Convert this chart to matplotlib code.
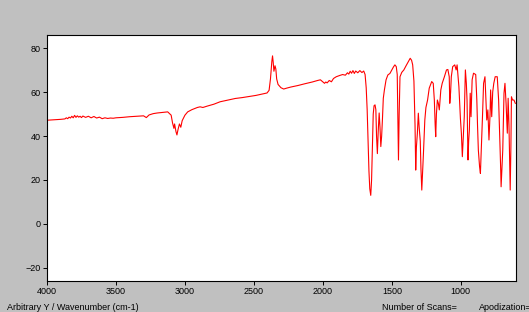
import matplotlib
matplotlib.use("Agg")
import matplotlib.pyplot as plt

plt.rcParams['font.family'] = ['Liberation Sans', 'DejaVu Sans']

# wavenumber (cm-1) and arbitrary Y
wavenumber = [
    4000, 3950, 3900, 3870, 3860, 3850, 3840, 3830, 3820, 3810, 3800, 3790,
    3780, 3770, 3760, 3750, 3740, 3720, 3700, 3680, 3660, 3640, 3620, 3600,
    3580, 3560, 3540, 3520, 3500, 3450, 3400, 3350, 3300, 3280, 3260, 3230,
    3200, 3150, 3125, 3100, 3090, 3080, 3075, 3065, 3058, 3050, 3040, 3030,
    3020, 3000, 2980, 2950, 2910, 2890, 2870, 2840, 2790, 2745, 2685, 2635,
    2585, 2535, 2485, 2435, 2405, 2390, 2380, 2370, 2365, 2360, 2355, 2347,
    2341, 2335, 2325, 2304, 2284, 2263, 2233, 2181, 2131, 2077, 2038, 2018,
    2003, 1988, 1979, 1969, 1954, 1938, 1923, 1903, 1877, 1857, 1837, 1822,
    1812, 1802, 1792, 1782, 1772, 1762, 1747, 1732, 1717, 1704, 1694, 1686,
    1679, 1672, 1666, 1660, 1653, 1647, 1641, 1635, 1629, 1622, 1616, 1611,
    1605, 1599, 1592, 1586, 1580, 1574, 1568, 1562, 1554, 1542, 1529, 1514,
    1500, 1488, 1478, 1468, 1461, 1455, 1452, 1447, 1441, 1428, 1413, 1397,
    1380, 1367, 1357, 1349, 1340, 1332, 1327, 1322, 1315, 1308, 1302, 1294,
    1289, 1283, 1276, 1271, 1261, 1253, 1241, 1229, 1211, 1200, 1192, 1186,
    1182, 1177, 1170, 1163, 1156, 1151, 1145, 1135, 1119, 1104, 1094, 1084,
    1080, 1074, 1069, 1059, 1044, 1034, 1027, 1021, 1014, 1003, 996, 989,
    982, 975, 967, 960, 955, 948, 943, 938, 932, 926, 918, 908,
    892, 884, 879, 873, 864, 858, 851, 843, 835, 825, 817, 812,
    804, 796, 788, 784, 776, 769, 761, 751, 736, 726, 715, 711,
    708, 702, 696, 687, 680, 672, 663, 657, 651, 645, 642, 637,
    633, 625, 615, 605,
]
absorb = [
    47.2, 47.4, 47.6, 47.8, 48.3, 47.9, 48.6, 48.2, 49.0, 48.3, 49.4, 48.5,
    49.2, 48.6, 49.0, 48.4, 49.1, 48.5, 49.0, 48.3, 48.9, 48.2, 48.6, 47.9,
    48.3, 48.0, 48.2, 48.1, 48.3, 48.5, 48.8, 49.0, 49.2, 48.4, 49.6, 50.2,
    50.5, 50.8, 51.0, 49.5, 46.0, 43.5, 45.5, 42.0, 40.5, 43.0, 45.5, 44.0,
    47.0, 49.5, 51.0, 52.0, 53.0, 53.3, 53.0, 53.6, 54.5, 55.6, 56.4, 57.1,
    57.5, 58.0, 58.5, 59.2, 59.6, 60.8, 66.0, 74.0, 76.5, 73.5, 69.5, 72.0,
    70.5, 66.0, 63.5, 62.0, 61.4, 61.8, 62.3, 63.0, 63.8, 64.6, 65.3, 65.6,
    64.8, 64.0, 64.6, 64.2, 65.3, 64.7, 66.2, 67.0, 67.6, 68.0, 67.7, 68.8,
    68.2, 69.5, 68.6, 69.8, 68.5, 69.6, 68.8, 69.8, 68.9, 69.6, 68.0, 62.0,
    52.0, 37.0, 24.0, 16.0, 13.0, 20.0, 36.0, 50.0, 53.8, 54.2, 52.0, 40.0,
    32.0, 42.0, 50.5, 44.0, 35.2, 40.0, 48.0, 57.2, 61.0, 65.6, 67.8, 68.5,
    70.1, 71.5, 72.4, 71.6, 68.0, 40.0, 29.1, 50.0, 67.0, 69.0, 70.1, 72.0,
    73.9, 75.4, 74.5, 72.4, 65.0, 45.0, 24.5, 35.0, 41.3, 50.4, 44.0, 37.7,
    25.0, 15.4, 25.0, 32.1, 47.3, 53.0, 56.4, 61.8, 64.8, 64.0, 56.4, 45.0,
    39.7, 50.0, 56.4, 54.9, 51.9, 56.0, 61.0, 64.0, 67.0, 70.1, 70.3, 67.0,
    54.9, 60.0, 67.0, 71.6, 72.4, 70.1, 72.4, 68.0, 62.5, 48.0, 41.3, 30.6,
    40.0, 48.8, 70.1, 64.0, 56.4, 29.1, 38.0, 42.8, 59.5, 48.8, 65.6, 68.6,
    68.0, 56.4, 45.0, 33.6, 26.0, 23.0, 35.0, 48.8, 64.0, 67.0, 55.0, 47.3,
    51.9, 38.2, 50.0, 61.0, 48.8, 60.0, 64.0, 67.0, 67.0, 56.4, 33.6, 25.0,
    16.9, 25.0, 33.6, 59.5, 64.0, 54.9, 41.3, 57.2, 45.0, 25.0, 15.4, 35.0,
    57.9, 56.4, 56.4, 54.9,
]

x_ticks = [4000, 3500, 3000, 2500, 2000, 1500, 1000]
y_ticks = [-20, 0, 20, 40, 60, 80]

fig = plt.figure(figsize=(5.29, 3.12), dpi=100, facecolor='#c0c0c0')
ax = fig.add_axes([47 / 529, 31 / 312, 469 / 529, 246 / 312])
ax.set_facecolor('white')

ax.plot(wavenumber, absorb, color='#ff0000', linewidth=0.8)

ax.set_xlim(4000, 600)
ax.set_ylim(-26, 86)
ax.set_xticks(x_ticks)
ax.set_yticks(y_ticks)
ax.tick_params(direction='out', length=3, width=0.7, labelsize=6.5,
               pad=1.5, colors='black')
for s in ax.spines.values():
    s.set_linewidth(0.8)
    s.set_color('black')

fig.text(7 / 529, 1 - 307 / 312, "Arbitrary Y / Wavenumber (cm-1)",
         fontsize=6.5, va='center', ha='left')
fig.text(382 / 529, 1 - 307 / 312, "Number of Scans=",
         fontsize=6.5, va='center', ha='left')
fig.text(479 / 529, 1 - 307 / 312, "Apodization=",
         fontsize=6.5, va='center', ha='left')

fig.savefig("out.png", dpi=100, facecolor=fig.get_facecolor())
